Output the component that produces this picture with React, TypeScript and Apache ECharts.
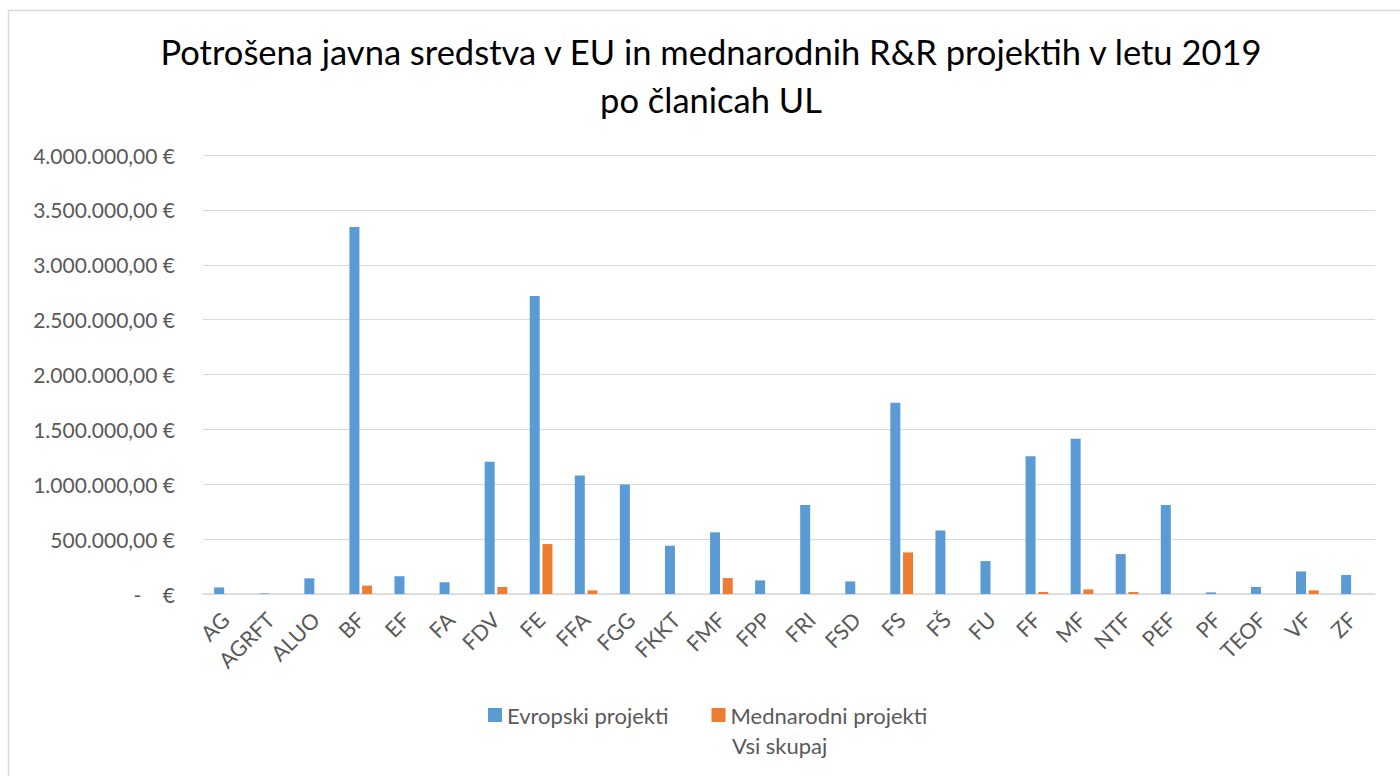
import React, { useEffect, useRef } from "react";
import * as echarts from "echarts";

const categories = ["AG", "AGRFT", "ALUO", "BF", "EF", "FA", "FDV", "FE", "FFA", "FGG", "FKKT", "FMF", "FPP", "FRI", "FSD", "FS", "FŠ", "FU", "FF", "MF", "NTF", "PEF", "PF", "TEOF", "VF", "ZF"];
const evropski = [60000, 5000, 143000, 3345000, 162000, 107000, 1206000, 2715000, 1080000, 998000, 440000, 562000, 124000, 812000, 115000, 1743000, 579000, 300000, 1255000, 1415000, 364000, 812000, 15000, 64000, 206000, 173000];
const mednarodni = [0, 0, 0, 76000, 0, 0, 64000, 455000, 33000, 0, 0, 145000, 0, 0, 0, 379000, 0, 0, 18000, 42000, 18000, 0, 0, 0, 33000, 0];
const seriesNames = ["Evropski projekti", "Mednarodni projekti", "Vsi skupaj"];
const titleText = "Potrošena javna sredstva v EU in mednarodnih R&R projektih v letu 2019\npo članicah UL";

const FONT = "Lato, 'Noto Sans', sans-serif";

function fmt(v: number): string {
  if (v === 0) return "-\u00a0\u00a0\u00a0\u00a0€";
  const s = Math.round(v).toString().replace(/\B(?=(\d{3})+(?!\d))/g, ".");
  return s + ",00 €";
}

export default function App() {
  const ref = useRef<HTMLDivElement>(null);
  useEffect(() => {
    if (!ref.current) return;
    const chart = echarts.init(ref.current, null, { renderer: "svg" });
    chart.setOption({
      animation: false,
      backgroundColor: "#ffffff",
      textStyle: { fontFamily: FONT },
      graphic: [
        {
          type: "rect",
          shape: { x: 8.5, y: 10.5, width: 1420, height: 820 },
          style: { fill: "none", stroke: "#d9d9d9", lineWidth: 1.5 },
          silent: true,
        },
      ],
      title: {
        text: titleText,
        left: 706,
        top: 22,
        textAlign: "center",
        textStyle: {
          fontFamily: FONT,
          fontSize: 34.5,
          fontWeight: "normal",
          color: "#000000",
          lineHeight: 48,
        },
      },
      legend: [
        {
          data: [seriesNames[0], seriesNames[1]],
          left: 488,
          top: 704,
          itemWidth: 14,
          itemHeight: 14,
          itemGap: 43,
          icon: "rect",
          selectedMode: false,
          padding: 0,
          textStyle: { fontFamily: FONT, fontSize: 22, color: "#595959" },
        },
        {
          data: [seriesNames[2]],
          left: 713,
          top: 734,
          itemWidth: 14,
          itemHeight: 14,
          icon: "rect",
          selectedMode: false,
          padding: 0,
          textStyle: { fontFamily: FONT, fontSize: 22, color: "#595959" },
        },
      ],
      grid: { left: 203, right: 25, top: 155, bottom: 182, containLabel: false },
      xAxis: {
        type: "category",
        data: categories,
        axisTick: { show: false },
        axisLine: { lineStyle: { color: "#d9d9d9", width: 1.5 } },
        axisLabel: {
          rotate: 45,
          interval: 0,
          margin: 22,
          fontFamily: FONT,
          fontSize: 21.5,
          color: "#595959",
        },
      },
      yAxis: {
        type: "value",
        min: 0,
        max: 4000000,
        interval: 500000,
        axisLine: { show: false },
        axisTick: { show: false },
        splitLine: { lineStyle: { color: "#d9d9d9", width: 1.2 } },
        axisLabel: {
          margin: 28,
          fontFamily: FONT,
          fontSize: 21,
          color: "#595959",
          formatter: (v: number) => fmt(v),
        },
      },
      series: [
        {
          name: seriesNames[0],
          type: "bar",
          data: evropski,
          barWidth: 10,
          barGap: "27%",
          itemStyle: { color: "#5b9bd5" },
        },
        {
          name: seriesNames[1],
          type: "bar",
          data: mednarodni,
          barWidth: 10,
          barGap: "27%",
          itemStyle: { color: "#ed7d31" },
        },
        {
          name: seriesNames[2],
          type: "scatter",
          data: [],
          itemStyle: { color: "rgba(0,0,0,0)" },
        },
      ],
    });
    return () => chart.dispose();
  }, []);
  return (
    <div
      ref={ref}
      style={{ position: "fixed", left: 0, top: 0, width: 1400, height: 776 }}
    />
  );
}
